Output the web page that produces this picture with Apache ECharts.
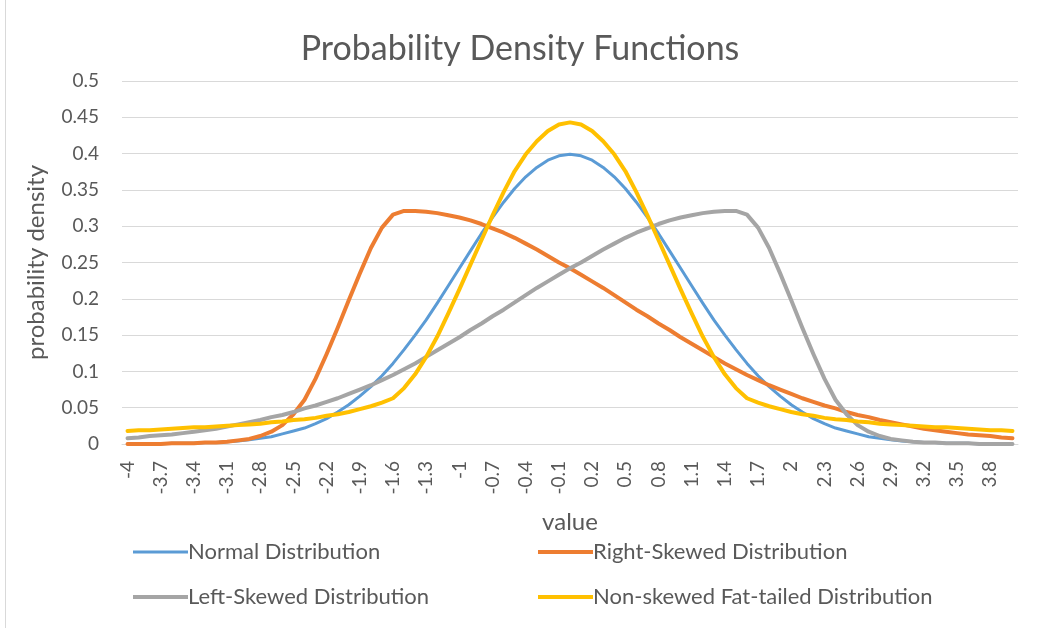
<!DOCTYPE html>
<html>
<head>
<meta charset="utf-8">
<title>Probability Density Functions</title>
<script src="https://cdn.jsdelivr.net/npm/echarts@6/dist/echarts.min.js"></script>
<style>
  html, body { margin: 0; padding: 0; background: #ffffff; }
  #chart { width: 1040px; height: 628px; }
</style>
</head>
<body>
<div id="chart"></div>
<script>
// x values from -4 to 4 in steps of 0.1
const categories = [
  '-4','-3.9','-3.8','-3.7','-3.6','-3.5','-3.4','-3.3','-3.2','-3.1',
  '-3','-2.9','-2.8','-2.7','-2.6','-2.5','-2.4','-2.3','-2.2','-2.1',
  '-2','-1.9','-1.8','-1.7','-1.6','-1.5','-1.4','-1.3','-1.2','-1.1',
  '-1','-0.9','-0.8','-0.7','-0.6','-0.5','-0.4','-0.3','-0.2','-0.1',
  '0','0.1','0.2','0.3','0.4','0.5','0.6','0.7','0.8','0.9',
  '1','1.1','1.2','1.3','1.4','1.5','1.6','1.7','1.8','1.9',
  '2','2.1','2.2','2.3','2.4','2.5','2.6','2.7','2.8','2.9',
  '3','3.1','3.2','3.3','3.4','3.5','3.6','3.7','3.8','3.9','4'
];

const normalDist = [
  0.000,0.000,0.000,0.000,0.001,0.001,0.001,0.002,0.002,0.003,
  0.004,0.006,0.008,0.010,0.014,0.018,0.022,0.028,0.035,0.044,
  0.054,0.066,0.079,0.094,0.111,0.130,0.150,0.171,0.194,0.218,
  0.242,0.266,0.290,0.312,0.333,0.352,0.368,0.381,0.391,0.397,
  0.399,0.397,0.391,0.381,0.368,0.352,0.333,0.312,0.290,0.266,
  0.242,0.218,0.194,0.171,0.150,0.130,0.111,0.094,0.079,0.066,
  0.054,0.044,0.035,0.028,0.022,0.018,0.014,0.010,0.008,0.006,
  0.004,0.003,0.002,0.002,0.001,0.001,0.001,0.000,0.000,0.000,0.000
];

const rightSkewed = [
  0.000,0.000,0.000,0.000,0.001,0.001,0.001,0.002,0.002,0.003,
  0.005,0.007,0.011,0.017,0.026,0.041,0.061,0.090,0.124,0.160,
  0.198,0.235,0.270,0.298,0.316,0.321,0.321,0.320,0.318,0.315,
  0.312,0.308,0.303,0.297,0.291,0.284,0.276,0.268,0.259,0.250,
  0.242,0.233,0.224,0.215,0.205,0.195,0.185,0.176,0.166,0.157,
  0.147,0.138,0.129,0.120,0.111,0.103,0.095,0.088,0.081,0.075,
  0.069,0.063,0.058,0.053,0.049,0.044,0.040,0.037,0.033,0.030,
  0.027,0.024,0.021,0.019,0.017,0.015,0.013,0.012,0.011,0.009,0.008
];

const leftSkewed = [
  0.008,0.009,0.011,0.012,0.013,0.015,0.017,0.019,0.021,0.024,
  0.027,0.030,0.033,0.037,0.040,0.044,0.049,0.053,0.058,0.063,
  0.069,0.075,0.081,0.088,0.095,0.103,0.111,0.120,0.129,0.138,
  0.147,0.157,0.166,0.176,0.185,0.195,0.205,0.215,0.224,0.233,
  0.242,0.250,0.259,0.268,0.276,0.284,0.291,0.297,0.303,0.308,
  0.312,0.315,0.318,0.320,0.321,0.321,0.316,0.298,0.270,0.235,
  0.198,0.160,0.124,0.090,0.061,0.041,0.026,0.017,0.011,0.007,
  0.005,0.003,0.002,0.002,0.001,0.001,0.001,0.000,0.000,0.000,0.000
];

const fatTailed = [
  0.018,0.019,0.019,0.020,0.021,0.022,0.023,0.023,0.024,0.025,
  0.026,0.027,0.028,0.030,0.031,0.033,0.034,0.036,0.039,0.041,
  0.044,0.048,0.052,0.057,0.063,0.077,0.096,0.120,0.148,0.180,
  0.213,0.247,0.281,0.315,0.347,0.376,0.399,0.417,0.431,0.440,
  0.443,0.440,0.431,0.417,0.399,0.376,0.347,0.315,0.281,0.247,
  0.213,0.180,0.148,0.120,0.096,0.077,0.063,0.057,0.052,0.048,
  0.044,0.041,0.039,0.036,0.034,0.033,0.031,0.030,0.028,0.027,
  0.026,0.025,0.024,0.023,0.023,0.022,0.021,0.020,0.019,0.019,0.018
];

const seriesNames = [
  'Normal Distribution',
  'Right-Skewed Distribution',
  'Left-Skewed Distribution',
  'Non-skewed Fat-tailed Distribution'
];
const seriesColors = ['#5B9BD5', '#ED7D31', '#A5A5A5', '#FFC000'];
const seriesData = [normalDist, rightSkewed, leftSkewed, fatTailed];
const lineWidths = [3, 4, 4, 4];

const FONT = 'Lato, "Open Sans", sans-serif';
const TEXT_COLOR = '#595959';

// legend swatches: a flat bar whose thickness follows the series line width
function swatch(w) {
  return 'path://M0,0 L55,0 L55,' + w + ' L0,' + w + ' Z';
}
function legendItem(i) {
  return { name: seriesNames[i], icon: swatch(lineWidths[i]) };
}

const chart = echarts.init(document.getElementById('chart'), null, { renderer: 'canvas' });

const legendCommon = {
  orient: 'vertical',
  top: 536,
  itemWidth: 55,
  itemHeight: 22,
  itemGap: 23,
  textStyle: { fontFamily: FONT, fontSize: 22, color: TEXT_COLOR, padding: [0, 0, 0, -5], lineHeight: 22 }
};

chart.setOption({
  animation: false,
  backgroundColor: '#ffffff',
  title: {
    text: 'Probability Density Functions',
    left: 'center',
    top: 27,
    textStyle: { fontFamily: FONT, fontSize: 34, fontWeight: 'normal', color: TEXT_COLOR }
  },
  legend: [
    Object.assign({}, legendCommon, { left: 128, data: [legendItem(0), legendItem(2)] }),
    Object.assign({}, legendCommon, { left: 533, data: [legendItem(1), legendItem(3)] })
  ],
  grid: { left: 122, right: 22, top: 81, bottom: 184, containLabel: false },
  xAxis: {
    type: 'category',
    data: categories,
    boundaryGap: true,
    name: 'value',
    nameLocation: 'middle',
    nameGap: 66,
    nameTextStyle: { fontFamily: FONT, fontSize: 24, color: TEXT_COLOR },
    axisLine: { show: true, lineStyle: { color: '#D9D9D9', width: 1 } },
    axisTick: { show: false },
    axisLabel: {
      interval: 2,
      rotate: 90,
      margin: 17,
      fontFamily: FONT,
      fontSize: 19,
      color: TEXT_COLOR
    },
    splitLine: { show: false }
  },
  yAxis: {
    type: 'value',
    min: 0,
    max: 0.5,
    interval: 0.05,
    name: 'probability density',
    nameLocation: 'middle',
    nameGap: 74,
    nameTextStyle: { fontFamily: FONT, fontSize: 24, color: TEXT_COLOR },
    axisLine: { show: false },
    axisTick: { show: false },
    axisLabel: {
      margin: 23,
      fontFamily: FONT,
      fontSize: 19,
      color: TEXT_COLOR,
      formatter: function (v) { return String(Math.round(v * 100) / 100); }
    },
    splitLine: { show: true, lineStyle: { color: '#D9D9D9', width: 1 } }
  },
  graphic: [
    {
      type: 'line',
      shape: { x1: 5.5, y1: 0, x2: 5.5, y2: 628 },
      style: { stroke: '#D9D9D9', lineWidth: 1 },
      silent: true
    }
  ],
  series: seriesNames.map(function (name, i) {
    return {
      name: name,
      type: 'line',
      data: seriesData[i],
      symbol: 'none',
      smooth: false,
      color: seriesColors[i],
      lineStyle: { color: seriesColors[i], width: lineWidths[i], cap: 'round', join: 'round' },
      itemStyle: { color: seriesColors[i] },
      z: 2 + i
    };
  })
});
</script>
</body>
</html>
